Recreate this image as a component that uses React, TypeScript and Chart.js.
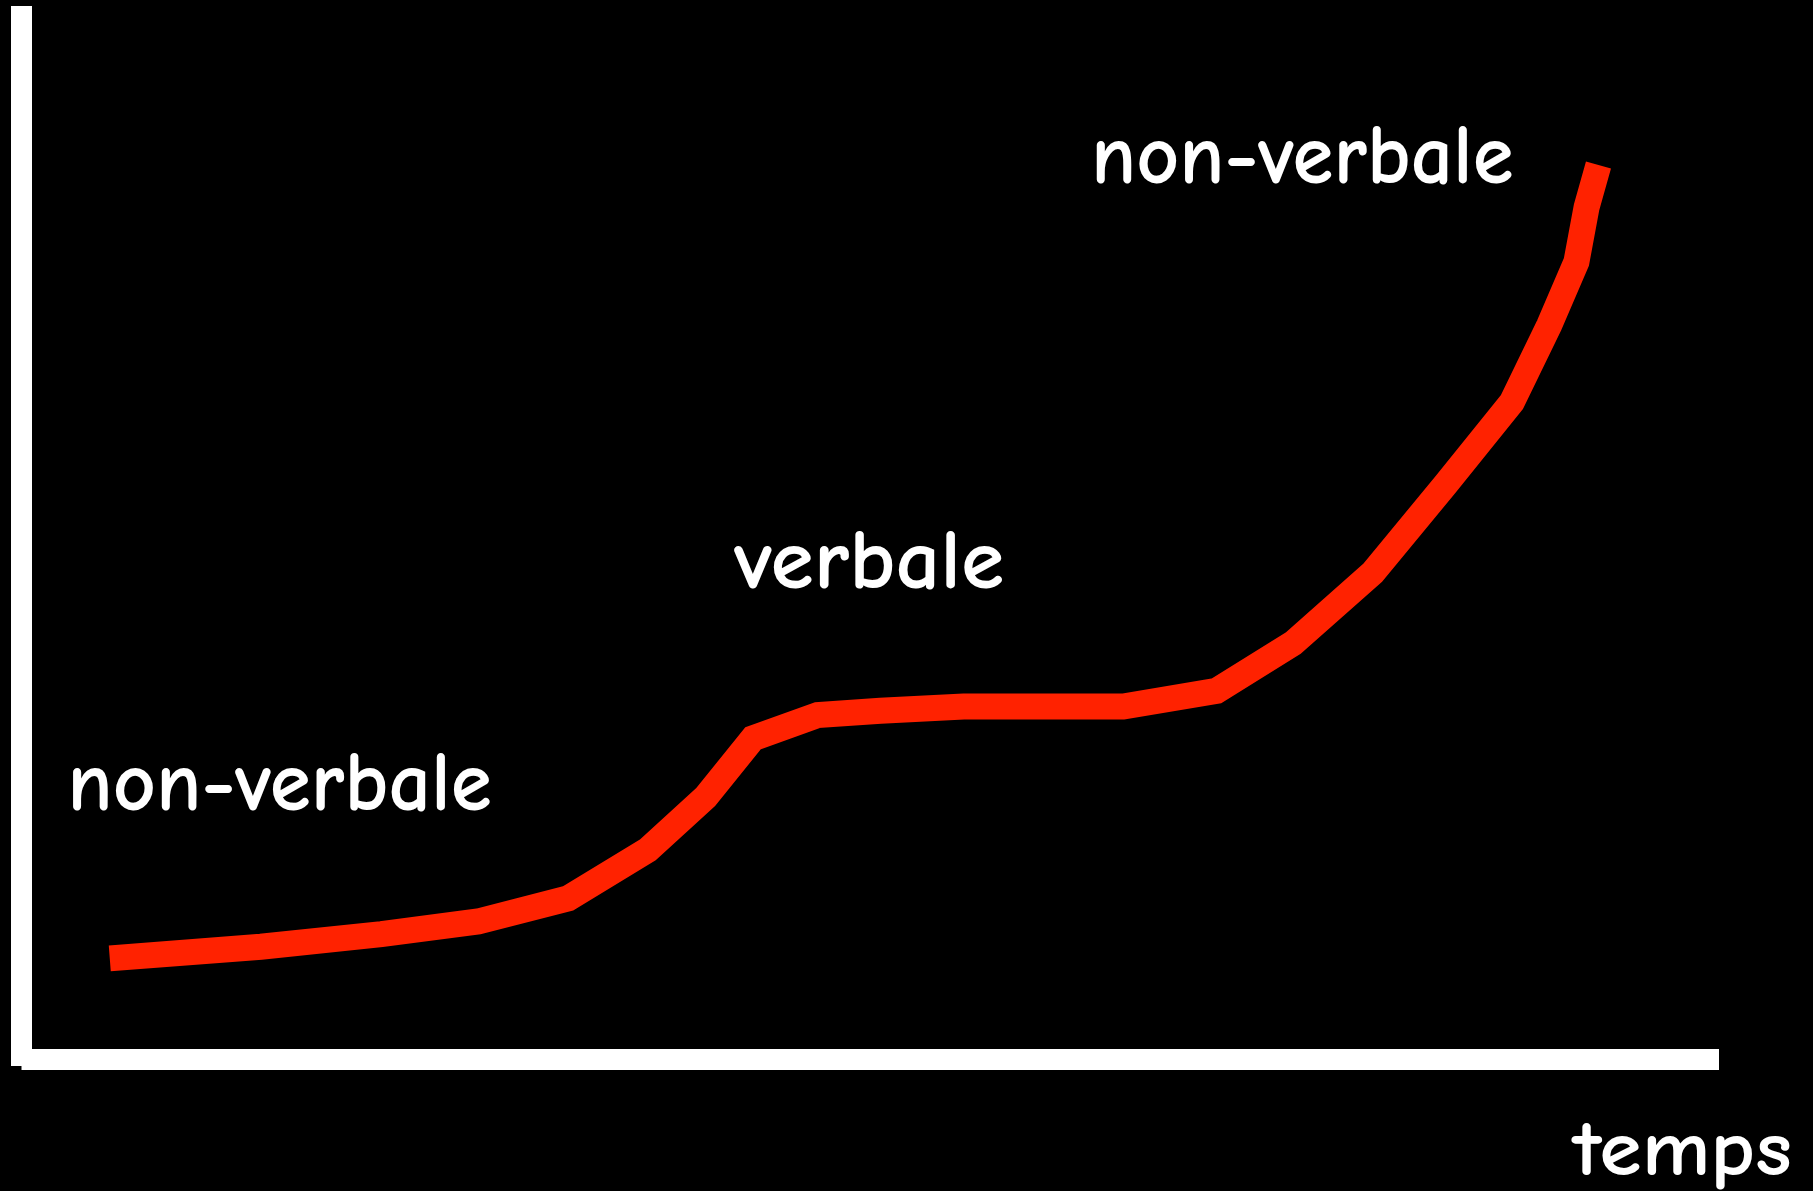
import React, { useEffect, useRef } from "react";
import { Chart, registerables } from "chart.js";

Chart.register(...registerables);

// Curve: time (x) vs language level (y), both on a 0..100 scale
const timeValues = [5.2, 14.1, 21.2, 26.9, 32.2, 36.9, 40.3, 43.1, 46.9, 50.6, 55.5, 64.9, 70.4, 74.9, 79.6, 83.9, 87.8, 90.0, 91.6, 92.2, 92.9];
const levelValues = [9.6, 10.7, 11.9, 13.1, 15.3, 19.9, 24.9, 30.5, 32.7, 33.1, 33.5, 33.5, 35.0, 39.5, 46.2, 54.6, 62.4, 69.7, 75.7, 80.9, 84.9];

// Phase labels (text only)
const phaseLabels = ["non-verbale", "verbale", "non-verbale"];
const axisTitle = "temps";

// Annotation placement (in data units), kept apart from the values
const phaseLabelPlacement = [
  { x: 2.7, y: 23.7, w: 25.0 },
  { x: 42.0, y: 44.8, w: 15.9 },
  { x: 63.0, y: 83.2, w: 24.9 },
];
const axisTitlePlacement = { xRight: 104.3, y: -11.0, w: 12.9 };

const FONT = '"Comic Sans MS", "Comic Neue", "Noto Sans", sans-serif';
const LINE_COLOR = "#ff2200";
const AXIS_COLOR = "#ffffff";
const AXIS_WIDTH = 21;

function drawFitted(ctx: CanvasRenderingContext2D, text: string, x: number, y: number, w: number, size: number, alignRight = false) {
  ctx.font = `bold ${size}px ${FONT}`;
  const m = ctx.measureText(text).width;
  const s = m > 0 ? w / m : 1;
  ctx.save();
  ctx.translate(alignRight ? x - w : x, y);
  ctx.scale(s, 1);
  ctx.textBaseline = "alphabetic";
  ctx.textAlign = "left";
  ctx.fillText(text, 0, 0);
  ctx.restore();
}

const overlayPlugin = {
  id: "overlay",
  beforeDraw(chart: any) {
    const { ctx } = chart;
    ctx.save();
    ctx.fillStyle = "#000000";
    ctx.fillRect(0, 0, chart.width, chart.height);
    ctx.restore();
  },
  beforeDatasetsDraw(chart: any) {
    const { ctx, chartArea: a } = chart;
    const h = AXIS_WIDTH / 2;
    ctx.save();
    ctx.fillStyle = AXIS_COLOR;
    // y axis
    ctx.fillRect(a.left - h, a.top, AXIS_WIDTH, a.bottom - a.top + 6.5);
    // x axis
    ctx.fillRect(a.left, a.bottom - h, a.right - a.left, AXIS_WIDTH);
    ctx.restore();
  },
  afterDraw(chart: any) {
    const { ctx, scales } = chart;
    const xs = scales.x;
    const ys = scales.y;
    ctx.save();
    ctx.fillStyle = "#ffffff";
    phaseLabels.forEach((t, i) => {
      const p = phaseLabelPlacement[i];
      const px = xs.getPixelForValue(p.x);
      const py = ys.getPixelForValue(p.y);
      const pw = xs.getPixelForValue(p.x + p.w) - px;
      drawFitted(ctx, t, px, py, pw, 84);
    });
    const tx = xs.getPixelForValue(axisTitlePlacement.xRight);
    const ty = ys.getPixelForValue(axisTitlePlacement.y);
    const tw = tx - xs.getPixelForValue(axisTitlePlacement.xRight - axisTitlePlacement.w);
    drawFitted(ctx, axisTitle, tx, ty, tw, 78, true);
    ctx.restore();
  },
};

export default function App() {
  const canvasRef = useRef<HTMLCanvasElement | null>(null);

  useEffect(() => {
    document.body.style.margin = "0";
    document.body.style.background = "#000";
    document.body.style.overflow = "hidden";
    const canvas = canvasRef.current;
    if (!canvas) return;
    const points = timeValues.map((x, i) => ({ x, y: levelValues[i] }));
    const chart = new Chart(canvas, {
      type: "line",
      data: {
        datasets: [
          {
            data: points,
            borderColor: LINE_COLOR,
            borderWidth: 26,
            borderCapStyle: "butt",
            borderJoinStyle: "miter",
            pointRadius: 0,
            pointHoverRadius: 0,
            tension: 0,
            fill: false,
            clip: false,
          } as any,
        ],
      },
      options: {
        responsive: false,
        maintainAspectRatio: false,
        animation: false,
        events: [],
        layout: { padding: { left: 21.5, top: 6, right: 94, bottom: 131.5 } },
        scales: {
          x: { type: "linear", min: 0, max: 100, display: false },
          y: { type: "linear", min: 0, max: 100, display: false },
        },
        plugins: {
          legend: { display: false },
          tooltip: { enabled: false },
          title: { display: false },
        },
      },
      plugins: [overlayPlugin],
    });
    return () => chart.destroy();
  }, []);

  return (
    <div style={{ width: 1813, height: 1191, background: "#000" }}>
      <canvas ref={canvasRef} width={1813} height={1191} style={{ display: "block", width: 1813, height: 1191 }} />
    </div>
  );
}
